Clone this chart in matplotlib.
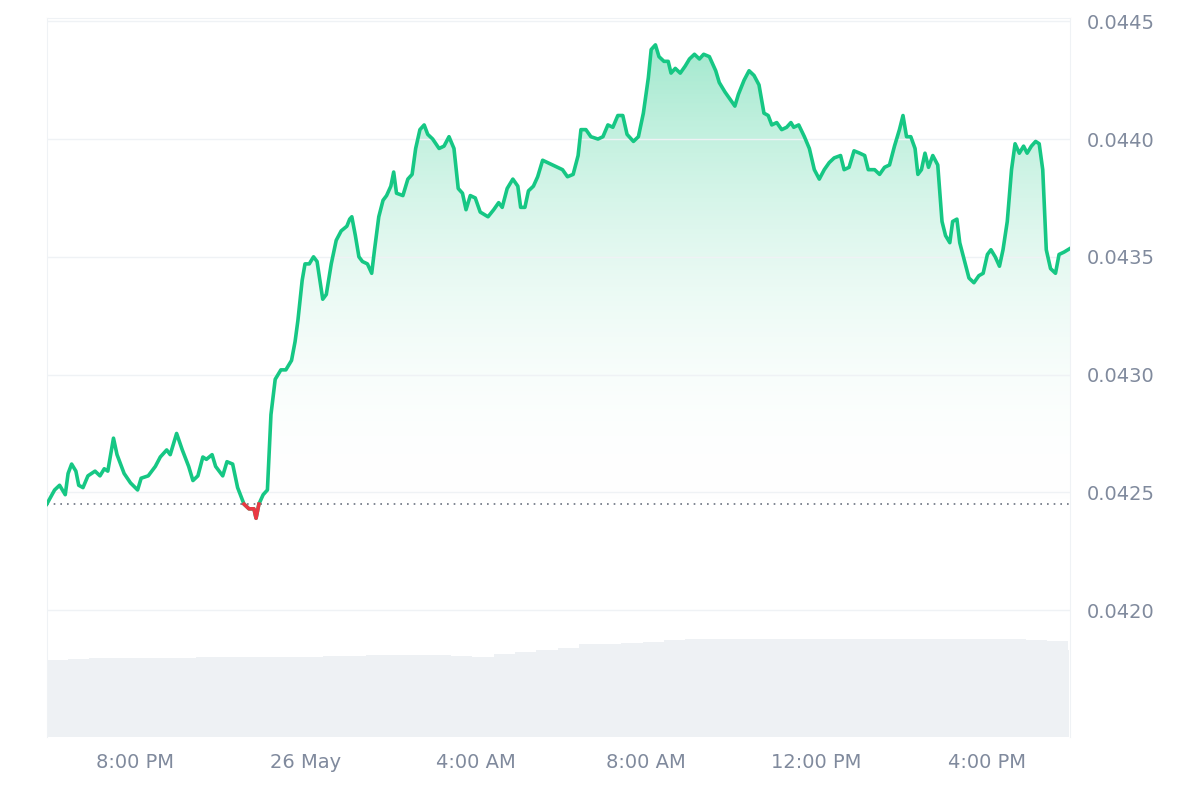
import matplotlib.pyplot as plt
import numpy as np
from matplotlib.patches import Polygon
from matplotlib.colors import LinearSegmentedColormap

# minutes since 17:55 (25 May) and price
t_min = [0, 11, 18, 26, 30, 35, 41, 45, 51, 58, 68, 75, 81, 86, 94, 99, 109, 118, 128, 133,
         143, 153, 160, 169, 174, 183, 191, 200, 206, 213, 220, 225, 233, 238, 248, 254, 262, 269,
         278, 285, 292, 295, 299, 305, 311, 316, 322, 330, 337, 345, 350, 354, 360, 364, 370, 376,
         381, 389, 394, 401, 408, 415, 423, 427, 430, 435, 440, 445, 452, 458, 462, 468, 474, 479,
         485, 489, 493, 502, 509, 515, 520, 526, 532, 537, 544, 553, 560, 567, 574, 580, 586, 591,
         597, 604, 611, 622, 630, 637, 642, 649, 657, 664, 668, 674, 679, 686, 692, 699, 706, 713,
         720, 727, 734, 742, 749, 753, 760, 767, 777, 784, 791, 798, 805, 812, 818, 827, 834, 841,
         848, 852, 858, 863, 870, 876, 880, 886, 893, 900, 906, 913, 920, 926, 934, 943, 948, 956,
         963, 970, 975, 983, 990, 997, 1004, 1011, 1017, 1022, 1029, 1036, 1043, 1049, 1053, 1060,
         1068, 1075, 1082, 1089, 1096, 1103, 1110, 1119, 1124, 1131, 1138, 1146, 1153, 1158, 1167,
         1174, 1181, 1188, 1195, 1202, 1207, 1212, 1218, 1224, 1228, 1233, 1238, 1243, 1249, 1256,
         1262, 1267, 1273, 1277, 1283, 1287, 1294, 1300, 1307, 1314, 1320, 1326, 1331, 1337, 1343,
         1348, 1354, 1360, 1365, 1371, 1377, 1382, 1388, 1394, 1399, 1404, 1409, 1415, 1422, 1427,
         1434, 1445]
price = [0.04245, 0.04251, 0.04253, 0.04249, 0.04258, 0.04262, 0.04259, 0.04253, 0.04252, 0.04257,
         0.04259, 0.04257, 0.04260, 0.04259, 0.04273, 0.04266, 0.04258, 0.04254, 0.04251, 0.04256,
         0.04257, 0.04261, 0.04265, 0.04268, 0.04266, 0.04275, 0.04268, 0.04261, 0.04255, 0.04257,
         0.04265, 0.04264, 0.04266, 0.04261, 0.04257, 0.04263, 0.04262, 0.04252, 0.04245, 0.04243,
         0.04243, 0.04239, 0.04245, 0.04249, 0.04251, 0.04283, 0.04298, 0.04302, 0.04302, 0.04306,
         0.04314, 0.04323, 0.04340, 0.04347, 0.04347, 0.04350, 0.04348, 0.04332, 0.04334, 0.04347,
         0.04357, 0.04361, 0.04363, 0.04366, 0.04367, 0.04359, 0.04350, 0.04348, 0.04347, 0.04343,
         0.04353, 0.04367, 0.04374, 0.04376, 0.04380, 0.04386, 0.04377, 0.04376, 0.04383, 0.04385,
         0.04396, 0.04404, 0.04406, 0.04402, 0.04400, 0.04396, 0.04397, 0.04401, 0.04396, 0.04379,
         0.04377, 0.04370, 0.04376, 0.04375, 0.04369, 0.04367, 0.04370, 0.04373, 0.04371, 0.04379,
         0.04383, 0.04380, 0.04371, 0.04371, 0.04378, 0.04380, 0.04384, 0.04391, 0.04390, 0.04389,
         0.04388, 0.04387, 0.04384, 0.04385, 0.04393, 0.04404, 0.04404, 0.04401, 0.04400, 0.04401,
         0.04406, 0.04405, 0.04410, 0.04410, 0.04402, 0.04399, 0.04401, 0.04411, 0.04426, 0.04438,
         0.04440, 0.04435, 0.04433, 0.04433, 0.04428, 0.04430, 0.04428, 0.04431, 0.04434, 0.04436,
         0.04434, 0.04436, 0.04435, 0.04429, 0.04424, 0.04420, 0.04417, 0.04414, 0.04419, 0.04425,
         0.04429, 0.04427, 0.04423, 0.04411, 0.04410, 0.04406, 0.04407, 0.04404, 0.04405, 0.04407,
         0.04405, 0.04406, 0.04401, 0.04396, 0.04387, 0.04383, 0.04387, 0.04390, 0.04392, 0.04393,
         0.04387, 0.04388, 0.04395, 0.04394, 0.04393, 0.04387, 0.04387, 0.04385, 0.04388, 0.04389,
         0.04397, 0.04404, 0.04410, 0.04401, 0.04401, 0.04396, 0.04385, 0.04387, 0.04394, 0.04388,
         0.04393, 0.04389, 0.04365, 0.04359, 0.04356, 0.04365, 0.04366, 0.04356, 0.04348, 0.04341,
         0.04339, 0.04342, 0.04343, 0.04351, 0.04353, 0.04350, 0.04346, 0.04353, 0.04365, 0.04387,
         0.04398, 0.04394, 0.04397, 0.04394, 0.04397, 0.04399, 0.04398, 0.04387, 0.04353, 0.04345,
         0.04343, 0.04351, 0.04352, 0.04354]
base_price = 0.04245

# volume, one value per 30 min (relative units)
vol = [77, 78, 79, 79, 79, 79, 79, 80, 80, 80, 80, 80, 80, 81, 81, 82, 82, 82, 82, 81,
       80, 83, 85, 87, 89, 93, 93, 94, 95, 97, 98, 98, 98, 98, 98, 98, 98, 98, 98, 98,
       98, 98, 98, 98, 98, 98, 97, 96, 90]

tick_pos = [125, 365, 605, 845, 1085, 1325]
tick_labels = ["8:00 PM", "26 May", "4:00 AM", "8:00 AM", "12:00 PM", "4:00 PM"]
y_ticks = [0.0420, 0.0425, 0.0430, 0.0435, 0.0440, 0.0445]

green = "#16c784"
red = "#ea3943"
grid_c = "#eff2f5"
txt_c = "#808a9d"

t = np.array(t_min, dtype=float)
p = np.array(price)

fig = plt.figure(figsize=(12, 8), dpi=100)
ax = fig.add_axes([0.039, 0.079, 0.853, 0.8985])
ax.set_xlim(0, 1443)
ax.set_ylim(0.041462, 0.044514)

# volume bars on an overlaid axis
axv = ax.twinx()
axv.set_ylim(0, 719)
vt = np.arange(len(vol)) * 30 + 15
axv.bar(vt[:-1], vol[:-1], width=30, color="#eef1f4", edgecolor="none", linewidth=0)
axv.bar([1422, 1439], [vol[-1], vol[-1] - 3], width=5, color="#eef1f4", edgecolor="none",
        linewidth=0)
axv.set_yticks([])
axv.set_zorder(0)
ax.set_zorder(1)
ax.patch.set_visible(False)
for s in axv.spines.values():
    s.set_visible(False)

# gradient fill above baseline
cmap = LinearSegmentedColormap.from_list("g", [(1, 1, 1, 0), (22/255, 199/255, 132/255, 0.4)])
grad = np.linspace(0, 1, 256).reshape(-1, 1)
im = ax.imshow(grad, extent=[0, 1443, base_price, p.max()], origin="lower", aspect="auto",
               cmap=cmap, zorder=1)
poly = Polygon(np.column_stack([np.r_[t, t[-1], t[0]],
                                np.r_[np.maximum(p, base_price), base_price, base_price]]),
               closed=True, transform=ax.transData, facecolor="none", edgecolor="none")
ax.add_patch(poly)
im.set_clip_path(poly)

# line, red where below baseline
ax.plot(t, p, color=green, lw=2.6, zorder=3)
idx = np.where(p < base_price)[0]
seg = slice(idx.min() - 1, idx.max() + 2)
ax.plot(t[seg], p[seg], color=red, lw=2.6, zorder=4)
ax.axhline(base_price, color="#6b7280", lw=1.2, ls=(0, (1, 3)), zorder=2)

ax.set_yticks(y_ticks)
ax.yaxis.tick_right()
ax.set_yticklabels([f"{v:.4f}" for v in y_ticks])
ax.set_xticks(tick_pos)
ax.set_xticklabels(tick_labels)
ax.tick_params(length=0, colors=txt_c, labelsize=14)
ax.tick_params(axis="y", pad=12)
ax.tick_params(axis="x", pad=12)
ax.grid(axis="y", color=grid_c, lw=1)
for s in ax.spines.values():
    s.set_color(grid_c)
ax.spines["bottom"].set_visible(False)

fig.savefig("out.png", dpi=100)
